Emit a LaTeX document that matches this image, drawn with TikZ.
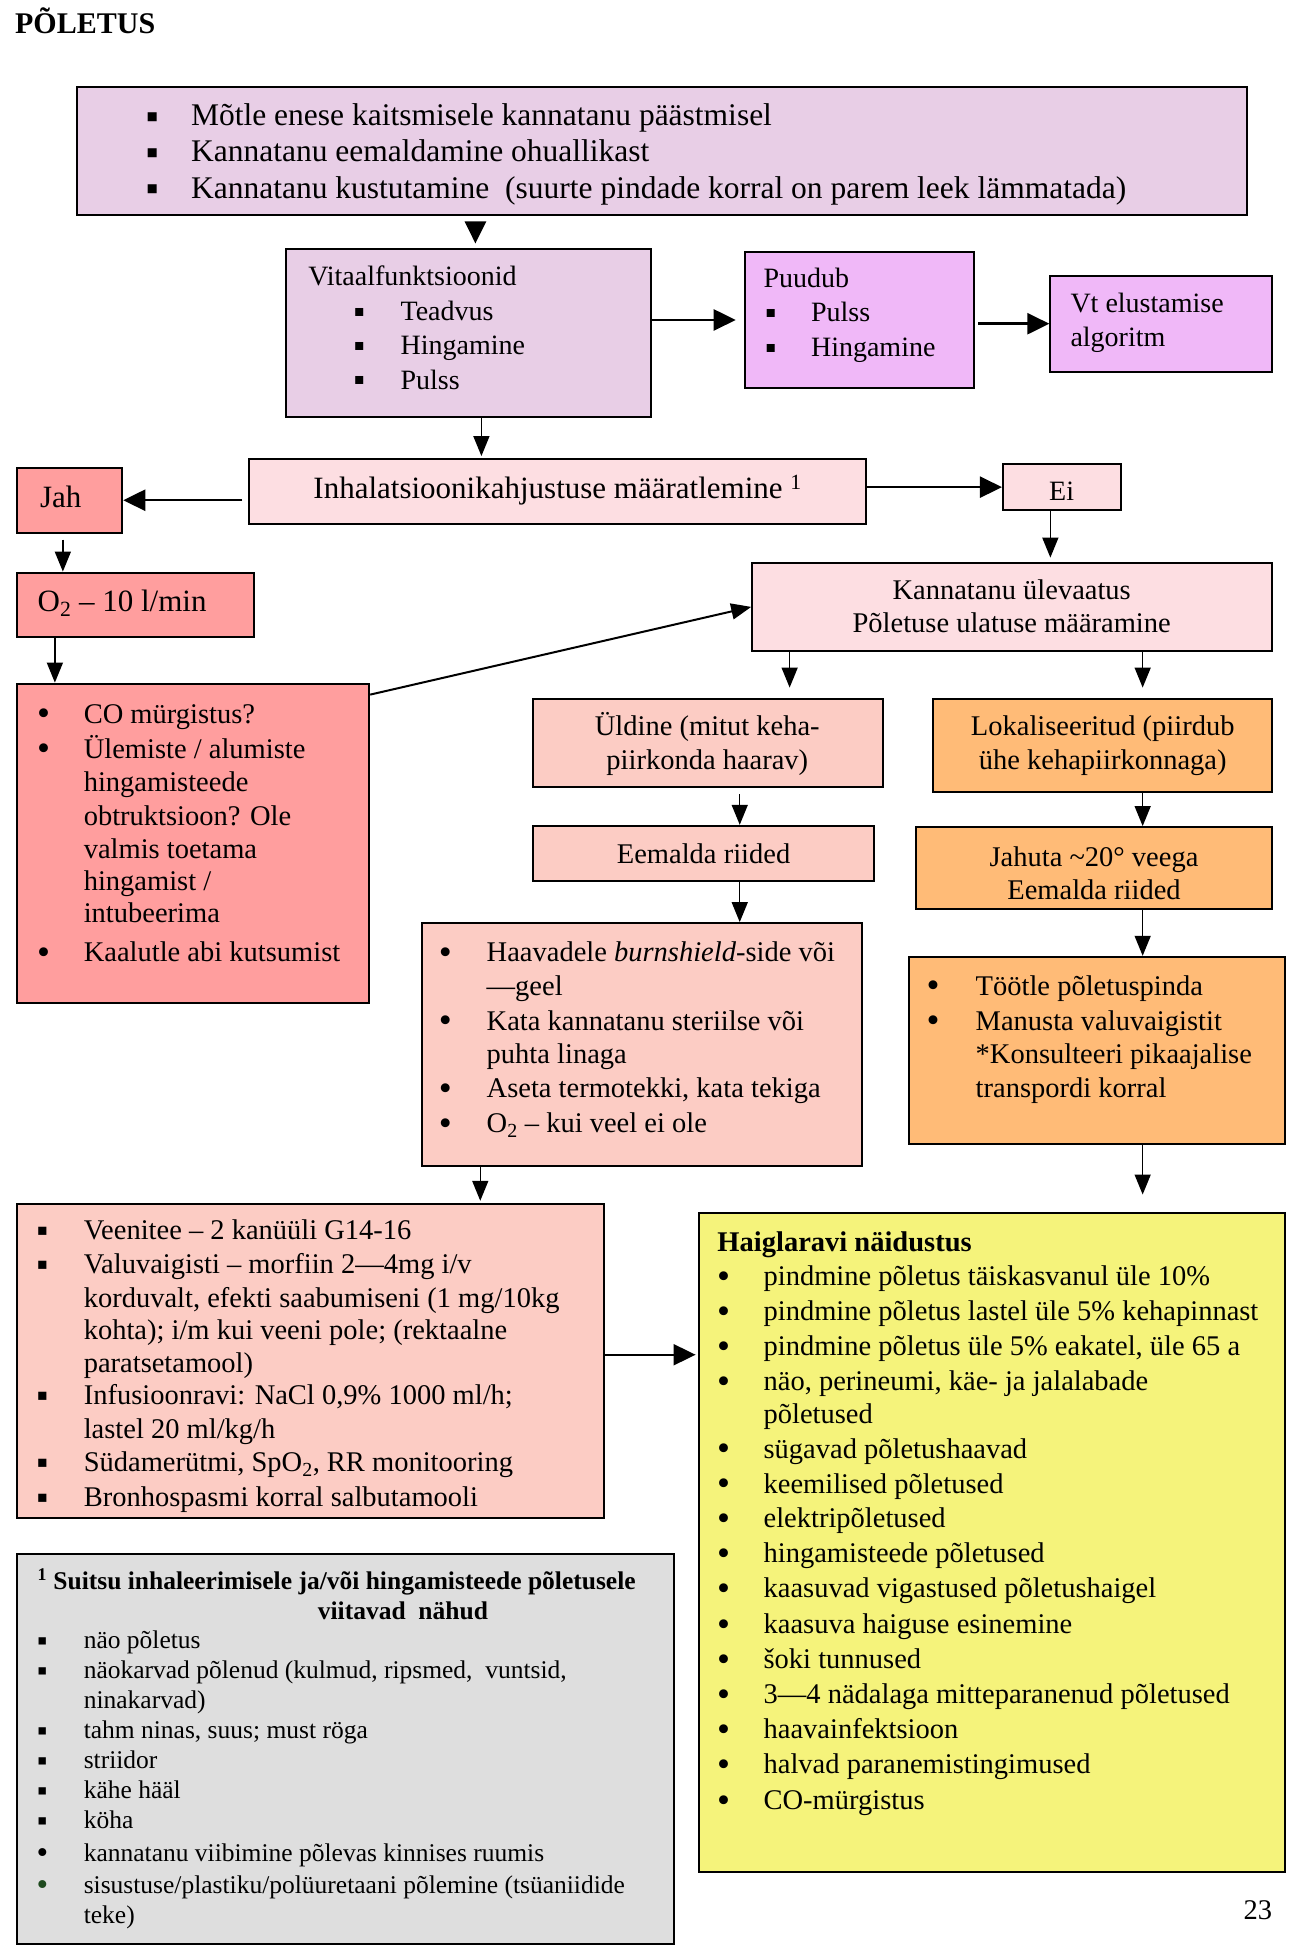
\documentclass[tikz,border=0pt]{standalone}
\usepackage{fontspec}
\setmainfont{Liberation Serif}
\usetikzlibrary{arrows.meta,fit}
\definecolor{cLav}{HTML}{E8CEE6}
\definecolor{cVio}{HTML}{F0B8F8}
\definecolor{cPink}{HTML}{FDDEE2}
\definecolor{cRed}{HTML}{FF9E9E}
\definecolor{cPeach}{HTML}{FCCCC4}
\definecolor{cOra}{HTML}{FFBB77}
\definecolor{cYel}{HTML}{F5F37B}
\definecolor{cGray}{HTML}{DEDEDE}
\definecolor{dkgreen}{HTML}{1E4A1E}
\newcommand\fsTop{\fontsize{31.5}{36}\selectfont}
\newcommand\fsBig{\fontsize{31}{36}\selectfont}
\newcommand\fsV{\fontsize{28}{34}\selectfont}
\newcommand\fsM{\fontsize{28.5}{34}\selectfont}
\newcommand\fsS{\fontsize{25.5}{30}\selectfont}
\newcommand\bsq{\raisebox{-0.07em}{\scalebox{1.15}{▪}}}
\newcommand\bdot{\raisebox{-0.09em}{\scalebox{1.3}{•}}}
\newcommand\Items[4]{%
  \foreach \yy/\bb/\tT in {#4}{%
    \ifnum\bb>0
      \node[anchor=mid,inner sep=0pt,yshift=-7.5pt,font=#3] (b#2-\yy) at (#1,\yy) {\ifcase\bb\or \bsq\or \bdot\or \textcolor{dkgreen}{\bdot}\fi};
    \fi
    \node[tl,font=#3] (t#2-\yy) at (#2,\yy) {\tT};
  }}
\begin{document}
\begin{tikzpicture}[x=1.2474pt,y=-1.2474pt,
  box/.style={draw=black,line width=2pt,inner sep=0pt},
  tl/.style={anchor=mid west,inner sep=0pt,yshift=-7.5pt},
  ctr/.style={anchor=mid,inner sep=0pt,yshift=-7.5pt,font=\fsM},
  arr/.style={-{Triangle[length=20pt,width=16pt]},line width=1.5pt},
  bigarr/.style={-{Triangle[length=22pt,width=21pt]},line width=2.5pt}]
\fill[white] (0,0) rectangle (1051,1568);
\useasboundingbox (0,0) rectangle (1051,1568);

% title
\node[tl,font=\fontsize{30}{34}\selectfont\bfseries] (title) at (12,19) {PÕLETUS};

% boxes
\node[box,fill=cLav,fit={(62,70)(1000,172)}] (top) {};
\node[box,fill=cLav,fit={(229,200)(522,334)}] (vit) {};
\node[box,fill=cVio,fit={(597,202)(781,311)}] (pud) {};
\node[box,fill=cVio,fit={(842,221)(1020,298)}] (vt) {};
\node[box,fill=cPink,fit={(200,368)(694,420)}] (inh) {};
\node[box,fill=cRed,fit={(14,375)(98,427)}] (jah) {};
\node[box,fill=cPink,fit={(804,372)(899,409)}] (ei) {};
\node[box,fill=cRed,fit={(14,459)(204,511)}] (o2) {};
\node[box,fill=cPink,fit={(603,451)(1020,522)}] (kann) {};
\node[box,fill=cRed,fit={(14,548)(296,804)}] (co) {};
\node[box,fill=cPeach,fit={(427,560)(708,631)}] (uld) {};
\node[box,fill=cOra,fit={(748,560)(1020,635)}] (lok) {};
\node[box,fill=cPeach,fit={(427,662)(701,706)}] (eem) {};
\node[box,fill=cOra,fit={(734,663)(1020,729)}] (jahu) {};
\node[box,fill=cPeach,fit={(338,740)(691,935)}] (haav) {};
\node[box,fill=cOra,fit={(729,767)(1030,917)}] (too) {};
\node[box,fill=cPeach,fit={(14,965)(484,1217)}] (veen) {};
\node[box,fill=cYel,fit={(560,972)(1030,1501)}] (haig) {};
\node[box,fill=cGray,fit={(14,1246)(540,1558)}] (foot) {};

% texts
\Items{122}{153}{\fsTop}{93/1/{Mõtle enese kaitsmisele kannatanu päästmisel},
  122/1/{Kannatanu eemaldamine ohuallikast},
  151/1/{Kannatanu kustutamine\ \ (suurte pindade korral on parem leek lämmatada)}}

\node[tl,font=\fsV] (vith) at (247,221) {Vitaalfunktsioonid};
\Items{288}{321}{\fsV}{249/1/Teadvus,276/1/Hingamine,304/1/Pulss}

\node[tl,font=\fsV] (pudh) at (612,223) {Puudub};
\Items{618}{650}{\fsV}{250/1/Pulss,278/1/Hingamine}

\node[tl,font=\fsV] (vt1) at (858,243) {Vt elustamise};
\node[tl,font=\fsV] (vt2) at (858,270) {algoritm};

\node[ctr,font=\fsBig] (inht) at (447,392) {Inhalatsioonikahjustuse määratlemine \textsuperscript{1}};
\node[tl,font=\fsBig] (jaht) at (32,399) {Jah};
\node[ctr,font=\fsV] (eit) at (851,393) {Ei};
\node[tl,font=\fsBig] (o2t) at (30,482) {O\textsubscript{2} – 10 l/min};

\Items{35}{67}{\fsM}{572/2/{CO mürgistus?},600/2/{Ülemiste / alumiste},627/0/hingamisteede,
  654/0/{obtruktsioon? Ole},680/0/{valmis toetama},706/0/{hingamist /},732/0/intubeerima,
  763/2/{Kaalutle abi kutsumist}}

\node[ctr] (k1) at (811,473) {Kannatanu ülevaatus};
\node[ctr] (k2) at (811,499) {Põletuse ulatuse määramine};
\node[ctr] (u1) at (567,582) {Üldine (mitut keha-};
\node[ctr] (u2) at (567,609) {piirkonda haarav)};
\node[ctr] (l1) at (884,582) {Lokaliseeritud (piirdub};
\node[ctr] (l2) at (884,609) {ühe kehapiirkonnaga)};
\node[ctr] (e1) at (564,684) {Eemalda riided};
\node[ctr] (j1) at (877,687) {Jahuta \textasciitilde20° veega};
\node[ctr] (j2) at (877,713) {Eemalda riided};

\Items{357}{390}{\fsM}{763/2/{Haavadele \textit{burnshield}-side või},790/0/{—geel},
  818/2/{Kata kannatanu steriilse või},845/0/{puhta linaga},
  872/2/{Aseta termotekki, kata tekiga},900/2/{O\textsubscript{2} – kui veel ei ole}}

\Items{748}{782}{\fsM}{790/2/{Töötle põletuspinda},818/2/{Manusta valuvaigistit},
  845/0/{*Konsulteeri pikaajalise},872/0/{transpordi korral}}

\Items{34}{67}{\fsM}{986/1/{Veenitee – 2 kanüüli G14-16},1013/1/{Valuvaigisti – morfiin 2—4mg i/v},
  1040/0/{korduvalt, efekti saabumiseni (1 mg/10kg},1066/0/{kohta); i/m kui veeni pole; (rektaalne},
  1092/0/{paratsetamool)},1118/1/{Infusioonravi: NaCl 0,9\% 1000 ml/h;},1145/0/{lastel 20 ml/kg/h},
  1172/1/{Südamerütmi, SpO\textsubscript{2}, RR monitooring},1200/1/{Bronhospasmi korral salbutamooli}}

\node[tl,font=\fsM\bfseries] (hh) at (575,995) {Haiglaravi näidustus};
\Items{580}{612}{\fsM}{1023/2/{pindmine põletus täiskasvanul üle 10\%},
  1051/2/{pindmine põletus lastel üle 5\% kehapinnast},
  1079/2/{pindmine põletus üle 5\% eakatel, üle 65 a},
  1107/2/{näo, perineumi, käe- ja jalalabade},1133/0/{põletused},
  1161/2/{sügavad põletushaavad},1189/2/{keemilised põletused},1217/2/{elektripõletused},
  1245/2/{hingamisteede põletused},1273/2/{kaasuvad vigastused põletushaigel},
  1302/2/{kaasuva haiguse esinemine},1330/2/{šoki tunnused},
  1358/2/{3—4 nädalaga mitteparanenud põletused},1386/2/{haavainfektsioon},
  1414/2/{halvad paranemistingimused},1443/2/{CO-mürgistus}}

\node[tl,font=\fsS\bfseries] (f1) at (30,1266) {\textsuperscript{1} Suitsu inhaleerimisele ja/või hingamisteede põletusele};
\node[ctr,font=\fsS\bfseries] (f2) at (323,1290) {viitavad\ \ nähud};
\Items{34}{67}{\fsS}{1314/1/{näo põletus},1338/1/{näokarvad põlenud (kulmud, ripsmed,\ \ vuntsid,},
  1362/0/{ninakarvad)},1386/1/{tahm ninas, suus; must röga},1410/1/striidor,1434/1/{kähe hääl},
  1458/1/köha,1484/2/{kannatanu viibimine põlevas kinnises ruumis},
  1510/3/{sisustuse/plastiku/polüuretaani põlemine (tsüaniidide},1534/0/{teke)}}

\node[anchor=mid east,inner sep=0pt,yshift=-7.5pt,font=\fsM] (page) at (1020,1531) {23};

% connectors
\coordinate (xA) at (44,0);
\coordinate (xEi) at (842,0);
\coordinate (xU) at (633,0);
\coordinate (xR) at (916,0);
\coordinate (xM) at (593,0);
\coordinate (xV) at (385,0);
\coordinate (yH) at (0,1086);

\draw[bigarr,shorten <=10pt,shorten >=5pt] ([xshift=7pt]vit.north |- top.south) -- ([xshift=7pt]vit.north);
\draw[arr,shorten >=2pt] ([xshift=13pt]vit.south) -- ([xshift=13pt]vit.south |- inh.north);
\draw[bigarr,shorten >=8pt] (vit.east |- pud.west) -- (pud.west);
\draw[bigarr,shorten <=3pt] (pud.east |- vt.west) -- (vt.west);
\draw[bigarr,shorten <=6pt] (inh.west |- jah.east) -- (jah.east);
\draw[bigarr] (inh.east |- ei.west) -- (ei.west);
\draw[arr,shorten <=6pt] ([xshift=-7pt]jah.south) -- ([xshift=-7pt]jah.south |- o2.north);
\draw[arr] (o2.south -| xA) -- (co.north -| xA);
\draw[arr,shorten >=4pt] (ei.south -| xEi) -- (kann.north -| xEi);
\draw[arr,line width=2pt] ([yshift=-12pt]co.north east) -- (kann.west);
\draw[arr,shorten >=10pt] (kann.south -| xU) -- (uld.north -| xU);
\draw[arr,shorten >=10pt] (kann.south -| xR) -- (lok.north -| xR);
\draw[arr,shorten <=6pt] (uld.south -| xM) -- (eem.north -| xM);
\draw[arr] (lok.south -| xR) -- (jahu.north -| xR);
\draw[arr] (eem.south -| xM) -- (haav.north -| xM);
\draw[arr] (jahu.south -| xR) -- (too.north -| xR);
\draw[arr,shorten >=2pt] (haav.south -| xV) -- (veen.north -| xV);
\draw[arr,shorten >=17pt] (too.south -| xR) -- (haig.north -| xR);
\draw[bigarr,line width=2pt,shorten >=2pt] (veen.east |- yH) -- (haig.west |- yH);
\end{tikzpicture}
\end{document}
